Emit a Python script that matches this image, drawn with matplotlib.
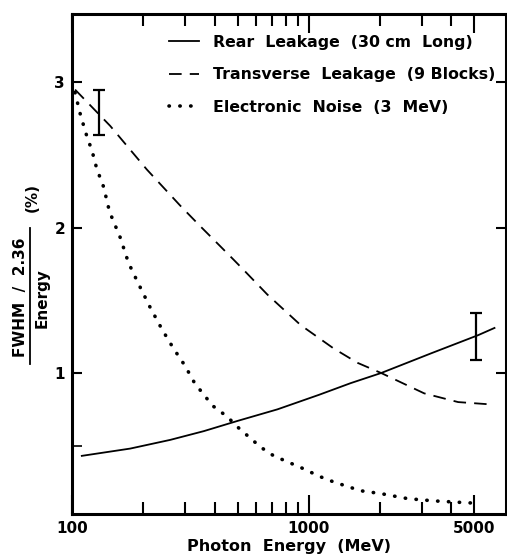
import matplotlib
matplotlib.use("Agg")
import matplotlib.pyplot as plt
from matplotlib.lines import Line2D

# ---- data ----
rear_E = [110, 176, 260, 360, 499, 737, 1104, 1500, 2020, 3290, 5180, 6080]
rear_R = [0.43, 0.48, 0.54, 0.60, 0.67, 0.75, 0.85, 0.93, 1.00, 1.136, 1.26, 1.31]

trans_E = [103, 145, 207, 287, 348, 424, 481, 530, 668, 923, 1270, 1606, 2020,
           3070, 4270, 5630]
trans_R = [2.95, 2.70, 2.40, 2.15, 2.01, 1.87, 1.78, 1.71, 1.54, 1.33, 1.17, 1.07,
           1.00, 0.86, 0.80, 0.786]

noise_E = [103, 108, 113, 117, 121, 127, 131, 136, 144, 150, 160, 173, 190, 214,
           240, 268, 300, 327, 360, 396, 452, 499, 568, 626, 711, 837, 954, 1104,
           1276, 1655, 2020, 2610, 3385, 4840]
noise_R = [2.93, 2.79, 2.68, 2.60, 2.54, 2.41, 2.35, 2.28, 2.11, 2.04, 1.93, 1.76,
           1.62, 1.45, 1.30, 1.17, 1.05, 0.94, 0.85, 0.77, 0.70, 0.63, 0.55, 0.49,
           0.43, 0.38, 0.34, 0.29, 0.25, 0.19, 0.17, 0.136, 0.12, 0.106]

err_E = [5100, 130]
err_R = [1.25, 2.795]
err_dR = [0.16, 0.155]

labels = ["Rear  Leakage  (30 cm  Long)",
          "Transverse  Leakage  (9 Blocks)",
          "Electronic  Noise  (3  MeV)"]
xtick_vals = [100, 1000, 5000]
xtick_labels = ["100", "1000", "5000"]
xminor_vals = [200, 300, 400, 500, 600, 700, 800, 900, 2000, 3000, 4000]
ytick_vals = [1, 2, 3]
ytick_labels = ["1", "2", "3"]

W, H = 507, 558
plt.rcParams['font.family'] = ['DejaVu Sans']
plt.rcParams['font.weight'] = 'bold'
plt.rcParams['axes.labelweight'] = 'bold'
fig = plt.figure(figsize=(W / 100, H / 100), dpi=100)
ax = fig.add_axes([72 / W, 1 - 514 / H, (506 - 72) / W, (514 - 14) / H])

ax.set_xscale('log')
ax.set_xlim(100, 6800)
ax.set_ylim(0.03, 3.47)

l1, = ax.plot(rear_E, rear_R, color='black', lw=1.3, linestyle='-')
l2, = ax.plot(trans_E, trans_R, color='black', lw=1.3, linestyle=(0, (7, 4.5)))
l3, = ax.plot(noise_E, noise_R, color='black', lw=2.6, linestyle=(0, (0.1, 2.9)),
              dash_capstyle='round')
ax.errorbar(err_E, err_R, yerr=err_dR, fmt='none', ecolor='black',
            elinewidth=1.6, capsize=4, capthick=1.6)

leg = ax.legend([l1, l2, l3], labels, loc='upper right', frameon=False,
                fontsize=11.3, handlelength=1.9, handletextpad=0.9,
                labelspacing=1.12, borderaxespad=0.0,
                bbox_to_anchor=(0.99, 0.971))

# ticks
ax.set_xticks(xtick_vals)
ax.set_xticklabels(xtick_labels)
ax.set_xticks(xminor_vals, minor=True)
ax.set_xticklabels([], minor=True)
ax.set_yticks(ytick_vals)
ax.set_yticklabels(ytick_labels)
ax.set_yticks([0.5], minor=True)
ax.set_yticklabels([], minor=True)
ax.tick_params(axis='x', which='major', direction='in', length=14, width=1.5,
               top=True, labelsize=11, pad=5)
ax.tick_params(axis='x', which='minor', direction='in', length=8.5, width=1.5,
               top=True)
ax.tick_params(axis='y', which='major', direction='in', length=7, width=1.5,
               right=True, labelsize=11, pad=5)
ax.tick_params(axis='y', which='minor', direction='in', length=7, width=1.2,
               right=False)
for s in ax.spines.values():
    s.set_linewidth(2.2)

ax.set_xlabel("Photon  Energy  (MeV)", fontsize=11.5, fontweight='bold', labelpad=2)

# y label as a fraction
def fx(px):
    return px / W

def fy(py):
    return 1 - py / H

fig.text(fx(21), fy(297), "FWHM  /  2.36", rotation=90, ha='center', va='center',
         fontsize=11)
fig.text(fx(42), fy(298), "Energy", rotation=90, ha='center', va='center',
         fontsize=11)
fig.text(fx(32), fy(197), "(%)", rotation=90, ha='center', va='center',
         fontsize=11)
fig.add_artist(Line2D([fx(30), fx(30)], [fy(228), fy(364)], color='black',
                      lw=1.3, transform=fig.transFigure))

fig.savefig("out.png", dpi=100)
